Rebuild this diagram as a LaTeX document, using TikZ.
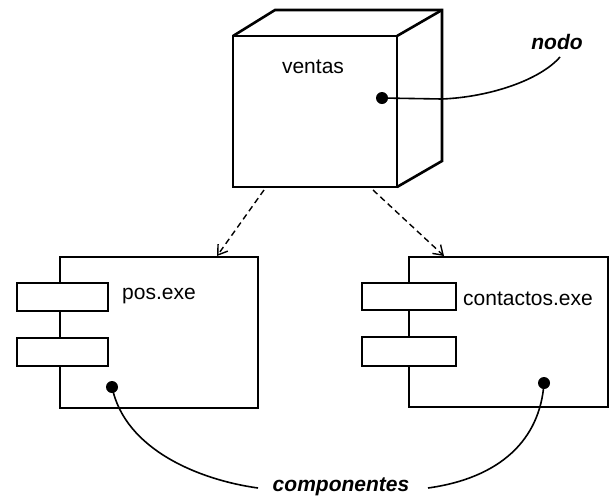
\documentclass[tikz,border=0pt]{standalone}
\usepackage{fontspec}
\setmainfont{Liberation Sans}
\usetikzlibrary{arrows.meta}
\begin{document}
\begin{tikzpicture}[x=1pt,y=-1pt,
  box/.style={draw,line width=2.6pt,line join=miter},
  lbl/.style={font=\fontsize{21}{24}\selectfont,inner sep=0pt},
  note/.style={font=\fontsize{21}{24}\selectfont\bfseries\itshape,inner sep=0pt},
  pin/.style={line width=1.6pt},
  dot/.style={circle,fill=black,inner sep=0pt,minimum size=12pt},
  dep/.style={line width=1.4pt,dash pattern=on 6pt off 4pt,-{Straight Barb[length=9pt,width=12pt,line width=1.4pt]}}]
\useasboundingbox (0,0) rectangle (610,499);

% node: a cube in perspective
\draw[box] (233,36) -- (275,10) -- (442,10) -- (442,161) -- (397,187);
\draw[box] (397,36) -- (442,10);
\draw[box] (233,36) rectangle (397,187);
\node[lbl] (ventas) at (313,67) {ventas};
\node[dot] (ndot) at (382,98) {};
\coordinate (cubeL) at (264,190);
\coordinate (cubeR) at (373,190);

% component pos.exe
\draw[box] (60,283) -- (60,257) -- (258,257) -- (258,408) -- (60,408) -- (60,366);
\draw[box] (60,311) -- (60,338);
\draw[box] (17,283) rectangle (108,311);
\draw[box] (17,338) rectangle (108,366);
\node[lbl,anchor=west] (pos) at (122,296) {pos.exe};
\node[dot] (pdot) at (112,387) {};
\coordinate (posTop) at (217,256);

% component contactos.exe
\draw[box] (409,283) -- (409,257) -- (608,257) -- (608,407) -- (409,407) -- (409,366);
\draw[box] (409,310) -- (409,337);
\draw[box] (362,283) rectangle (456,310);
\draw[box] (362,337) rectangle (456,366);
\node[lbl,anchor=west] (cont) at (463,299) {contactos.exe};
\node[dot] (cdot) at (544,383) {};
\coordinate (contTop) at (444,256);

% dependencies
\draw[dep] (cubeL) -- (posTop);
\draw[dep] (cubeR) -- (contTop);

% annotations
\node[note] (nodo) at (557,42) {nodo};
\draw[pin] (ndot.center) -- (442,99) .. controls (490,97) and (540,80) .. (560,57);

\node[note] (comp) at (341,487) {componentes};
\draw[pin] (pdot.center) .. controls (125,450) and (200,480) .. (258,488);
\draw[pin] (428,488) .. controls (500,478) and (540,440) .. (cdot.center);
\end{tikzpicture}
\end{document}
